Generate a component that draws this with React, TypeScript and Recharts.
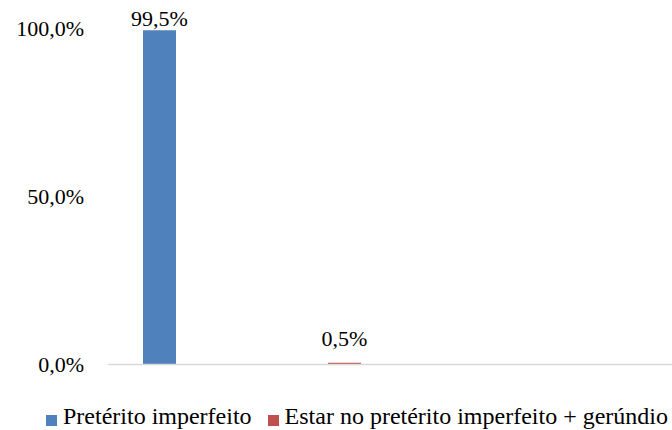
import { BarChart, Bar, XAxis, YAxis, Legend, LabelList } from "recharts";

const categories = ["Pretérito imperfeito", "Estar no pretérito imperfeito + gerúndio", ""];
const seriesNames = ["Pretérito imperfeito", "Estar no pretérito imperfeito + gerúndio"];
const preteritoImperfeito = [0.995, null, null];
const estarGerundio = [null, 0.005, null];
const yTicks = [0, 0.5, 1];

const data = categories.map((name, i) => ({
  name,
  imperfeito: preteritoImperfeito[i],
  gerundio: estarGerundio[i],
}));

const pct = (v: number | null) =>
  v == null ? "" : `${(v * 100).toFixed(1).replace(".", ",")}%`;

const FONT = '"Liberation Serif", "Times New Roman", serif';

export default function App() {
  return (
    <div style={cs.wrap}>
      <BarChart
        width={672}
        height={430}
        data={data}
        margin={{ top: 28.5, right: 0, bottom: 30.5, left: 0 }}
        barCategoryGap={35}
        barGap={8}
        style={{ fontFamily: FONT }}
      >
        <XAxis
          dataKey="name"
          height={10}
          tick={false}
          tickLine={false}
          axisLine={{ stroke: "#d9d9d9", strokeWidth: 1.5 }}
          padding={{ left: 0, right: 132 }}
        />
        <YAxis
          width={108}
          domain={[0, 1]}
          ticks={yTicks}
          tickFormatter={pct}
          axisLine={false}
          tickLine={false}
          tickMargin={18}
          tick={{ fill: "#000", fontSize: 22, fontFamily: FONT }}
        />
        <Legend
          verticalAlign="bottom"
          iconType="square"
          iconSize={11}
          itemSorter={(item: any) => seriesNames.indexOf(item.value)}
          wrapperStyle={{ top: 403, left: 29, width: 672, height: 25, whiteSpace: "nowrap", fontFamily: FONT }}
          formatter={(value) => <span style={cs.legendText}>{value}</span>}
        />
        <Bar dataKey="imperfeito" name={seriesNames[0]} fill="#4f81bd" isAnimationActive={false}>
          <LabelList dataKey="imperfeito" position="top" offset={4} formatter={pct} style={cs.label} />
        </Bar>
        <Bar dataKey="gerundio" name={seriesNames[1]} fill="#c0504d" isAnimationActive={false}>
          <LabelList dataKey="gerundio" position="top" offset={17} formatter={pct} style={cs.label} />
        </Bar>
      </BarChart>
    </div>
  );
}

const cs: Record<string, React.CSSProperties> = {
  wrap: { position: "absolute", left: 0, top: 0, width: 672, height: 430, overflow: "hidden", fontFamily: FONT, background: "#fff" },
  legendText: { color: "#000", fontSize: 24, fontFamily: FONT, paddingLeft: 2, paddingRight: 6 },
  label: { fill: "#000", fontSize: 22, fontFamily: FONT },
};
